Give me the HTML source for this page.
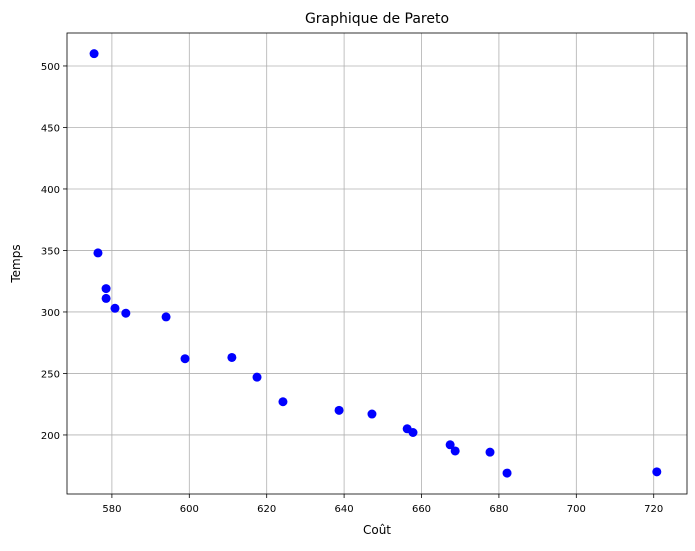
<!DOCTYPE html>
<html><head><meta charset="utf-8"><style>
body{margin:0;background:#fff;font-family:"DejaVu Sans","Liberation Sans",sans-serif}
</style></head><body>
<svg id="chart" width="695" height="547" xmlns="http://www.w3.org/2000/svg"></svg>
<script>
const costs=[575.4,576.4,578.5,578.5,580.8,583.6,594.0,598.9,611.0,617.5,624.2,638.7,647.2,656.3,657.8,667.4,668.7,677.7,682.1,720.8];
const times=[510,348,319,311,303,299,296,262,263,247,227,220,217,205,202,192,187,186,169,170];
const xTicks=[580,600,620,640,660,680,700,720];
const yTicks=[200,250,300,350,400,450,500];
const L=67,R=687,T=33,B=494;
const xMin=568.4,xMax=728.6,yMin=152,yMax=526.8;
const sx=v=>L+(v-xMin)/(xMax-xMin)*(R-L);
const sy=v=>B-(v-yMin)/(yMax-yMin)*(B-T);
const svg=document.getElementById('chart');
const NS='http://www.w3.org/2000/svg';
function mk(tag,attrs,txt){const e=document.createElementNS(NS,tag);for(const k in attrs)e.setAttribute(k,attrs[k]);if(txt!==undefined)e.textContent=txt;svg.appendChild(e);return e;}
xTicks.forEach(t=>{const x=sx(t);
 let g=mk('line',{x1:x,x2:x,y1:T,y2:B,stroke:'#b0b0b0','stroke-width':0.8});
 
 
 mk('line',{x1:x,x2:x,y1:B,y2:B+4,stroke:'#000','stroke-width':0.8});
 let l=mk('text',{x:x,y:B+18,'font-size':10,'text-anchor':'middle'},t);
 
 
});
yTicks.forEach(t=>{const y=sy(t);
 let g=mk('line',{x1:L,x2:R,y1:y,y2:y,stroke:'#b0b0b0','stroke-width':0.8});
 
 
 mk('line',{x1:L-4,x2:L,y1:y,y2:y,stroke:'#000','stroke-width':0.8});
 let l=mk('text',{x:L-7,y:y+4,'font-size':10,'text-anchor':'end'},t);
 
 
});
let fr=mk('rect',{x:L,y:T,width:R-L,height:B-T,fill:'none',stroke:'#000','stroke-width':0.8});


costs.forEach((c,i)=>{
 let p=mk('circle',{cx:sx(c),cy:sy(times[i]),r:4.5,fill:'#0000ff'});
 
 
});
let tt=mk('text',{x:(L+R)/2,y:23,'font-size':14,'text-anchor':'middle'},'Graphique de Pareto');


let xt=mk('text',{x:(L+R)/2,y:534,'font-size':12,'text-anchor':'middle'},'Coût');


let yt=mk('text',{x:20,y:(T+B)/2,'font-size':12,'text-anchor':'middle',transform:`rotate(-90 20 ${(T+B)/2})`},'Temps');


</script>
</body></html>
